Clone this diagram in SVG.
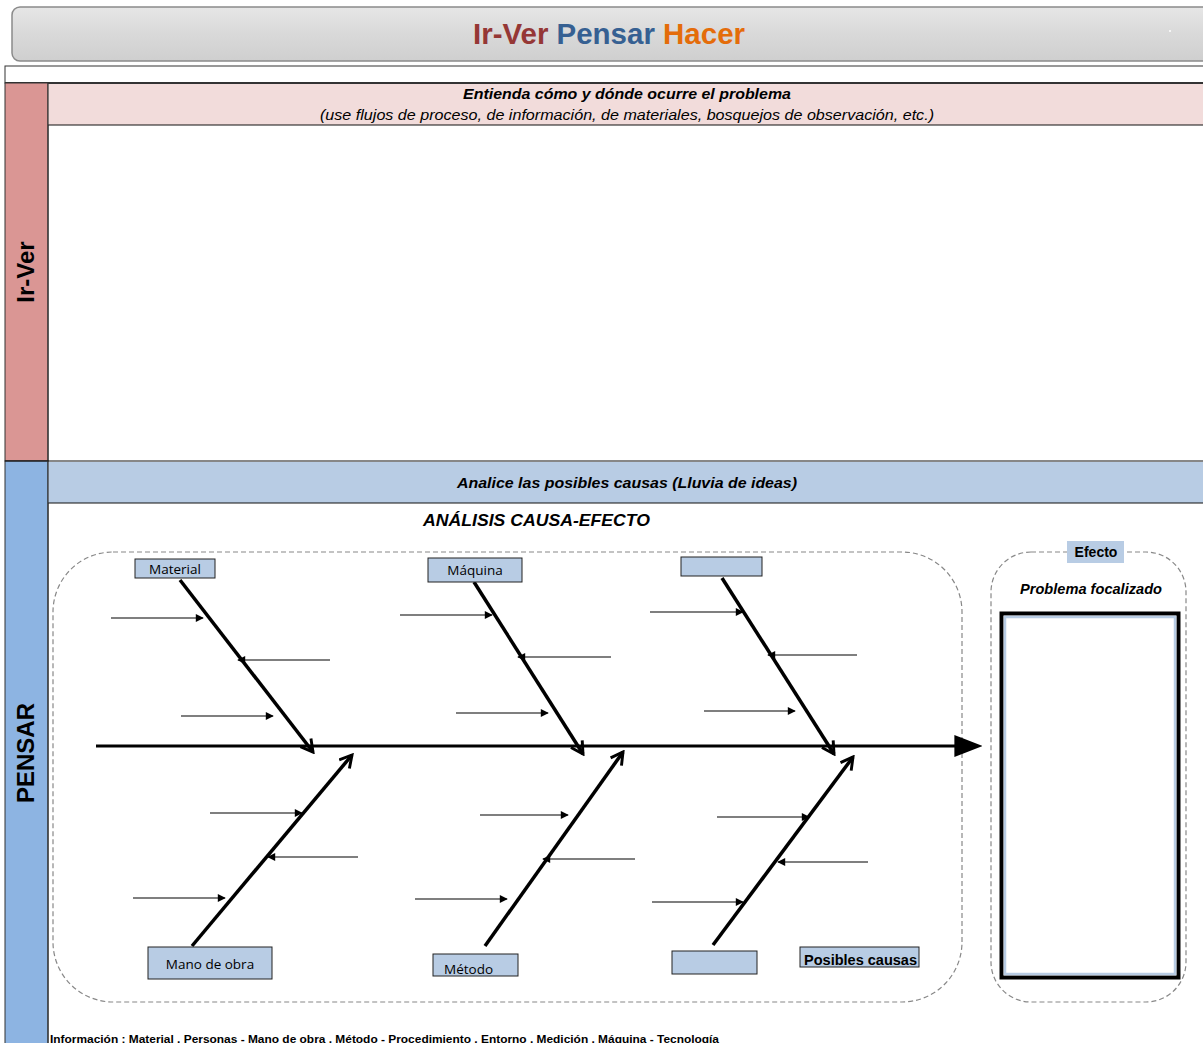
<svg xmlns="http://www.w3.org/2000/svg" width="1203" height="1043" viewBox="0 0 1203 1043">
<defs>
<linearGradient id="hdr" x1="0" y1="0" x2="0" y2="1">
<stop offset="0" stop-color="#e6e6e6"/><stop offset="0.5" stop-color="#d9d9d9"/><stop offset="1" stop-color="#cfcfcf"/>
</linearGradient>
<marker id="sm" viewBox="0 0 10 10" refX="9" refY="5" markerWidth="10" markerHeight="8" markerUnits="userSpaceOnUse" orient="auto">
<path d="M0,0 L10,5 L0,10 Z" fill="#000"/>
</marker>
<marker id="big" viewBox="0 0 12 12" refX="10" refY="6" markerWidth="16" markerHeight="16" markerUnits="userSpaceOnUse" orient="auto">
<path d="M1,1 L10,6 L1,11" fill="none" stroke="#000" stroke-width="2.2"/>
</marker>
<marker id="spine" viewBox="0 0 10 10" refX="2" refY="5" markerWidth="28" markerHeight="22" markerUnits="userSpaceOnUse" orient="auto" preserveAspectRatio="none">
<path d="M0,0 L10,5 L0,10 Z" fill="#000"/>
</marker>
</defs>
<style>
.band{font-family:"Liberation Sans",Arial,sans-serif;font-size:15px;font-style:italic;fill:#000}
.bi{font-weight:bold}
.lbl{font-family:"Open Sans","Liberation Sans",sans-serif;font-size:13.5px;fill:#000}
.cbox{fill:#b8cce4;stroke:#222;stroke-width:1}
.bone{stroke:#000;stroke-width:3.5;fill:none;marker-end:url(#big)}
.sub{stroke:#000;stroke-width:1.2;marker-end:url(#sm)}
.dash{fill:none;stroke:#888;stroke-width:1.2;stroke-dasharray:5 3}
.side{font-family:"Liberation Sans",Arial,sans-serif;font-size:24px;font-weight:bold;fill:#000}
</style>
<rect width="1203" height="1043" fill="#fff"/>

<g id="header">
<rect x="12" y="7" width="1200" height="54" rx="8" fill="url(#hdr)" stroke="#8a8a8a" stroke-width="1.5"/>
<text x="473" y="44" font-family="Liberation Sans,Arial,sans-serif" font-size="29" font-weight="bold" textLength="272" lengthAdjust="spacingAndGlyphs"><tspan fill="#953735">Ir-Ver</tspan> <tspan fill="#366092">Pensar</tspan> <tspan fill="#e46c0a">Hacer</tspan></text>
<circle cx="1170" cy="31" r="1" fill="#fff"/>
</g>

<g id="frame">
<rect x="5" y="66" width="1200" height="17" fill="#fff" stroke="#333" stroke-width="1"/>
<line x1="5" y1="83" x2="1203" y2="83" stroke="#333" stroke-width="2"/>
</g>

<g id="irver">
<rect x="5" y="83" width="43" height="378" fill="#da9694" stroke="#333" stroke-width="1"/>
<rect x="48" y="84" width="1155" height="41" fill="#f2dcdb"/>
<line x1="48" y1="125" x2="1203" y2="125" stroke="#111" stroke-width="1.2"/>
<line x1="48" y1="83" x2="48" y2="461" stroke="#333" stroke-width="1.2"/>
<text class="band bi" x="463" y="99" textLength="328" lengthAdjust="spacingAndGlyphs">Entienda cómo y dónde ocurre el problema</text>
<text class="band" x="320" y="120" textLength="614" lengthAdjust="spacingAndGlyphs">(use flujos de proceso, de información, de materiales, bosquejos de observación, etc.)</text>
<text class="side" transform="translate(34,272) rotate(-90)" text-anchor="middle">Ir-Ver</text>
</g>

<g id="pensar">
<rect x="5" y="461" width="43" height="590" fill="#8db4e2" stroke="#333" stroke-width="1"/>
<rect x="48" y="462" width="1155" height="41" fill="#b8cce4"/>
<line x1="5" y1="461" x2="1203" y2="461" stroke="#111" stroke-width="1.2"/>
<line x1="48" y1="503" x2="1203" y2="503" stroke="#111" stroke-width="1.2"/>
<line x1="48" y1="461" x2="48" y2="1043" stroke="#333" stroke-width="1.2"/>
<text class="band bi" x="457" y="488" textLength="340" lengthAdjust="spacingAndGlyphs">Analice las posibles causas (Lluvia de ideas)</text>
<text class="side" transform="translate(34,753) rotate(-90)" text-anchor="middle">PENSAR</text>
<text x="423" y="526" font-family="Liberation Sans,Arial,sans-serif" font-size="17" font-weight="bold" font-style="italic" textLength="227" lengthAdjust="spacingAndGlyphs">ANÁLISIS CAUSA-EFECTO</text>
</g>

<g id="causes-area">
<rect class="dash" x="53" y="552" width="909" height="450" rx="60"/>
</g>

<g id="effect">
<rect class="dash" x="991" y="552" width="195" height="450" rx="40"/>
<rect x="1067" y="541" width="57" height="22" fill="#b8cce4"/>
<text x="1096" y="557" text-anchor="middle" font-family="Liberation Sans,Arial,sans-serif" font-size="14" font-weight="bold">Efecto</text>
<text x="1020" y="594" font-family="Liberation Sans,Arial,sans-serif" font-size="14.5" font-weight="bold" font-style="italic" textLength="142" lengthAdjust="spacingAndGlyphs">Problema focalizado</text>
<rect x="1001.5" y="613.5" width="177" height="364" fill="#fff" stroke="#000" stroke-width="4"/>
<rect x="1005" y="617" width="170" height="357" fill="none" stroke="#b8cce4" stroke-width="2.5"/>
</g>

<g id="connectors">
<line x1="96" y1="746" x2="960" y2="746" stroke="#000" stroke-width="3" marker-end="url(#spine)"/>
<line class="bone" x1="180" y1="580" x2="313" y2="752"/>
<line class="bone" x1="474" y1="582" x2="583" y2="754"/>
<line class="bone" x1="722" y1="578" x2="834" y2="754"/>
<line class="bone" x1="192" y1="946" x2="352" y2="755"/>
<line class="bone" x1="485" y1="946" x2="623" y2="752"/>
<line class="bone" x1="713" y1="945" x2="853" y2="757"/>
<line class="sub" x1="111" y1="618" x2="203" y2="618"/>
<line class="sub" x1="330" y1="660" x2="238" y2="660"/>
<line class="sub" x1="181" y1="716" x2="273" y2="716"/>
<line class="sub" x1="400" y1="615" x2="492" y2="615"/>
<line class="sub" x1="611" y1="657" x2="518" y2="657"/>
<line class="sub" x1="456" y1="713" x2="548" y2="713"/>
<line class="sub" x1="650" y1="612" x2="743" y2="612"/>
<line class="sub" x1="857" y1="655" x2="768" y2="655"/>
<line class="sub" x1="704" y1="711" x2="795" y2="711"/>
<line class="sub" x1="210" y1="813" x2="302" y2="813"/>
<line class="sub" x1="358" y1="857" x2="268" y2="857"/>
<line class="sub" x1="133" y1="898" x2="225" y2="898"/>
<line class="sub" x1="480" y1="815" x2="568" y2="815"/>
<line class="sub" x1="635" y1="859" x2="543" y2="859"/>
<line class="sub" x1="415" y1="899" x2="507" y2="899"/>
<line class="sub" x1="717" y1="817" x2="809" y2="817"/>
<line class="sub" x1="868" y1="862" x2="778" y2="862"/>
<line class="sub" x1="652" y1="902" x2="743" y2="902"/>
</g>

<g id="material"><rect class="cbox" x="135" y="559" width="80" height="19"/><text class="lbl" x="175" y="574" text-anchor="middle">Material</text></g>
<g id="maquina"><rect class="cbox" x="428" y="558" width="94" height="24"/><text class="lbl" x="475" y="575" text-anchor="middle">Máquina</text></g>
<g id="cause3"><rect class="cbox" x="681" y="557" width="81" height="19"/></g>
<g id="mano-de-obra"><rect class="cbox" x="148" y="947" width="124" height="32"/><text class="lbl" x="210" y="969" text-anchor="middle">Mano de obra</text></g>
<g id="metodo"><rect class="cbox" x="433" y="954" width="85" height="22"/><text class="lbl" x="444" y="974">Método</text></g>
<g id="cause6"><rect class="cbox" x="672" y="951" width="85" height="23"/></g>
<g id="posibles"><rect class="cbox" x="800" y="947" width="119" height="20"/><text x="804" y="965" font-family="Liberation Sans,Arial,sans-serif" font-size="14" font-weight="bold" textLength="113" lengthAdjust="spacingAndGlyphs">Posibles causas</text></g>

<text x="50" y="1043" font-family="Liberation Sans,Arial,sans-serif" font-size="11" font-weight="bold" textLength="669" lengthAdjust="spacingAndGlyphs">Información : Material , Personas - Mano de obra , Método - Procedimiento , Entorno , Medición , Máquina - Tecnología</text>
</svg>
